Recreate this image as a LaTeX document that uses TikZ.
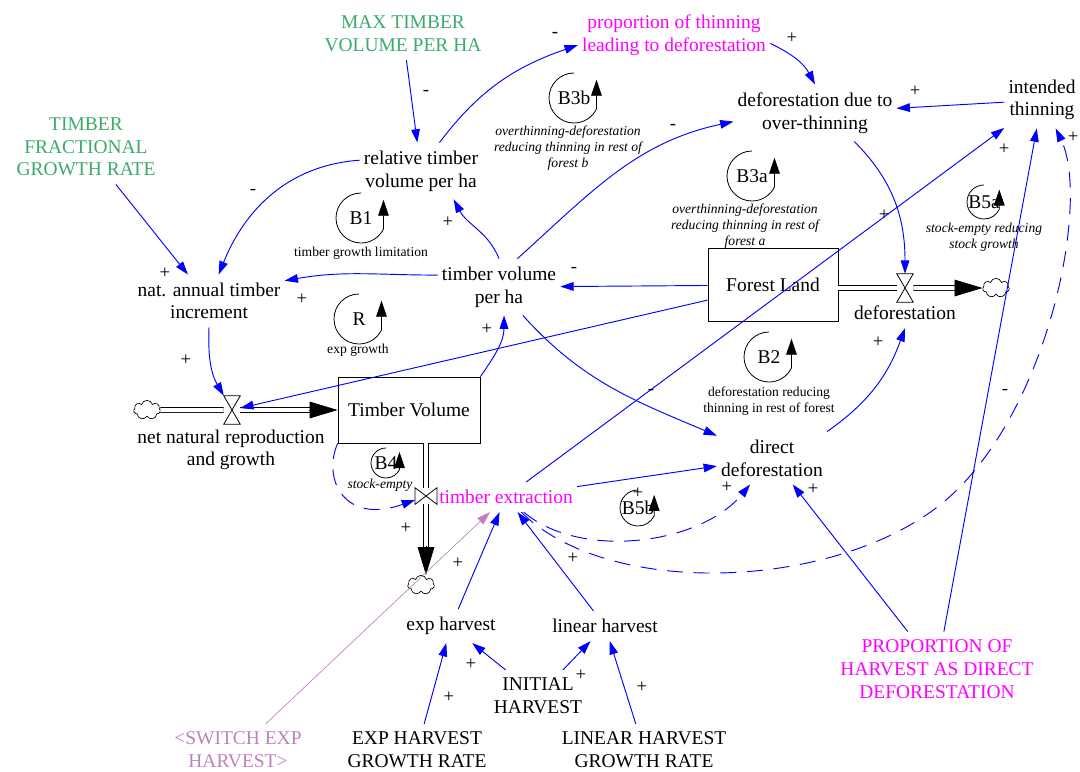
\documentclass[tikz,border=0pt]{standalone}
\usepackage{fontspec}
\setmainfont{Liberation Serif}
\usetikzlibrary{arrows.meta,shapes.symbols,calc}

\definecolor{cstgreen}{RGB}{60,170,105}
\definecolor{shdmag}{RGB}{255,0,255}
\definecolor{swlav}{RGB}{192,128,192}
\definecolor{lnkblue}{RGB}{0,0,255}

\newcommand{\varfont}{\fontsize{14.6}{17}\selectfont}
\newcommand{\loopfont}{\fontsize{10.2}{12}\selectfont}
\newcommand{\sgnfont}{\fontsize{14}{14}\selectfont}

\tikzset{
  var/.style={align=center, font=\varfont, inner xsep=3pt, inner ysep=6pt},
  cst/.style={var, text=cstgreen},
  shd/.style={var, text=shdmag},
  stockbox/.style={draw, line width=0.6pt, font=\varfont},
  link/.style={lnkblue, line width=0.7pt, -{Triangle[length=10pt,width=6.5pt]}},
  dlink/.style={link, dash pattern=on 12pt off 8pt},
  sgn/.style={font=\sgnfont, inner sep=0pt},
  pipe/.style={double, double distance=3pt, line width=0.6pt},
  pipetip/.style={line width=0.6pt, -{Triangle[length=21pt,width=12.5pt]}},
  hvalve/.style={inner sep=0pt, minimum width=12pt, minimum height=21pt},
  vvalve/.style={inner sep=0pt, minimum width=16pt, minimum height=12pt},
  bowtie/.style={line width=0.6pt, fill=white},
  cloudy/.style={cloud, cloud puffs=7, cloud ignores aspect, draw, fill=white, line width=0.5pt, inner sep=0pt, minimum width=20pt, minimum height=14.5pt},
  loopline/.style={line width=0.6pt, -{Triangle[length=12pt,width=8pt]}},
  loopname/.style={font=\varfont, inner sep=0pt},
  looptxt/.style={font=\loopfont, align=center, inner sep=0pt},
}

\begin{document}
\begin{tikzpicture}[x=0.75pt, y=0.75pt]
\useasboundingbox (0,0) rectangle (1080,-771);

% stocks, valves, clouds
\node[stockbox, minimum width=106.5pt, minimum height=49.5pt] (tv) at (409,-410) {Timber Volume};
\node[stockbox, minimum width=97.5pt, minimum height=54.75pt] (forest) at (773,-285) {Forest Land};
\node[hvalve] (vnat) at (232,-410) {};
\node[hvalve] (vdef) at (905,-288) {};
\node[vvalve] (vext) at (426,-496) {};
\node[cloudy] (cloudL) at (147,-410) {};
\node[cloudy] (cloudR) at (996,-288) {};
\node[cloudy] (cloudB) at (421,-585) {};

% flows
\draw[pipe] (cloudL) -- (vnat);
\draw[pipe, shorten >=21pt] (vnat) -- (tv);
\draw[pipetip] ($(tv.west)+(-29,0)$) -- (tv.west);
\draw[pipe] (vext |- tv.south) -- (vext);
\draw[pipe, shorten >=21pt] (vext) -- (vext |- cloudB.north);
\draw[pipetip] ($(vext |- cloudB.north)+(0,29)$) -- (vext |- cloudB.north);
\draw[pipe] (forest.east |- vdef) -- (vdef);
\draw[pipe, shorten >=19pt] (vdef) -- (cloudR);
\draw[pipetip] ($(cloudR.west)+(-27,0)$) -- (cloudR.west);
\foreach \v in {vnat, vdef}
  \draw[bowtie] (\v.center) -- (\v.north west) -- (\v.north east) -- cycle
                (\v.center) -- (\v.south west) -- (\v.south east) -- cycle;
\draw[bowtie] (vext.center) -- (vext.north west) -- (vext.south west) -- cycle
              (vext.center) -- (vext.north east) -- (vext.south east) -- cycle;

% variables
\node[cst] (maxv) at (403,-34) {MAX TIMBER\\VOLUME PER HA};
\node[cst] (tfgr) at (86,-147) {TIMBER\\FRACTIONAL\\GROWTH RATE};
\node[shd] (propthin) at (674,-35) {proportion of thinning\\leading to deforestation};
\node[var] (defover) at (815,-113) {deforestation due to\\over-thinning};
\node[var] (intended) at (1042,-100) {intended\\thinning};
\node[var] (reltv) at (421,-171) {relative timber\\volume per ha};
\node[var] (natinc) at (209,-301) {nat. annual timber\\increment};
\node[var] (tvph) at (499,-287) {timber volume\\per ha};
\node[var] (deflbl) at (905,-313) {deforestation};
\node[var] (nnrlbl) at (231,-450) {net natural reproduction\\and growth};
\node[shd] (textr) at (506,-497) {timber extraction};
\node[var] (direct) at (772,-458) {direct\\deforestation};
\node[var] (exph) at (451,-626) {exp harvest};
\node[var] (linh) at (605,-626) {linear harvest};
\node[var] (inith) at (538,-696) {INITIAL\\HARVEST};
\node[var] (ehgr) at (417,-750) {EXP HARVEST\\GROWTH RATE};
\node[var] (lhgr) at (644,-750) {LINEAR HARVEST\\GROWTH RATE};
\node[var, text=swlav] (swexp) at (238,-750) {<SWITCH EXP\\HARVEST>};
\node[shd] (prophd) at (937,-669) {PROPORTION OF\\HARVEST AS DIRECT\\DEFORESTATION};

% links
\draw[link] (maxv) -- (reltv);
\draw[link] (reltv.170) to[out=184,in=68] (natinc.70);
\draw[link] (tfgr) -- (natinc);
\draw[link] (tvph.169) to[out=180,in=10] (natinc.15);
\draw[link] (tvph.north) to[out=112,in=-62] (reltv.-41);
\draw[link] (reltv.57) to[out=53,in=199] (propthin.186);
\draw[link] (tvph.57) to[out=42,in=192] (defover.186);
\draw[link] (propthin.-5) to[out=-25,in=118] (defover.north);
\draw[link] (intended) -- (defover);
\draw[link] (defover.-36) to[out=-45,in=90] (vdef);
\draw[link] (forest) -- (tvph);
\draw[link] (forest) -- (vnat);
\draw[link] (natinc.south) to[out=-92,in=120] (vnat);
\draw[link] (tv.north east) to[out=55,in=-90] (tvph.-80);
\draw[link] (tvph.-50) to[out=-48,in=157] (direct.158);
\draw[link] (direct.north east) to[out=35,in=-110] (deflbl.south);
\draw[link] (textr) -- (direct);
\draw[link] (textr) -- (intended);
\draw[link] (prophd) -- (intended);
\draw[link] (prophd) -- (direct);
\draw[dlink] (textr) .. controls (580,-560) and (700,-545) .. (direct);
\draw[dlink] (textr) .. controls (610,-600) and (840,-590) .. (946,-500)
                     .. controls (1050,-410) and (1090,-200) .. (intended);
\draw[dlink] (tv.south west) .. controls (322,-480) and (345,-525) .. (vext);
\draw[link] (exph) -- (textr);
\draw[link] (linh) -- (textr);
\draw[link, swlav, line width=0.5pt] (swexp) -- (textr);
\draw[link] (ehgr) -- (exph);
\draw[link] (inith) -- (exph);
\draw[link] (inith) -- (linh);
\draw[link] (lhgr) -- (linh);

% polarities
\foreach \sx/\sy/\st [count=\i] in {426/93/-, 253/192/-, 165/273/+, 302/299/+, 448/222/+,
    555/35/-, 792/38/+, 915/91/+, 673/127/-, 574/270/-, 186/360/+, 487/329/+, 651/392/-,
    878/342/+, 884/215/+, 1004/149/+, 1073/137/+, 1005/392/-, 727/487/+, 813/489/+,
    638/493/+, 406/528/+, 458/563/+, 573/558/+, 471/664/+, 449/697/+, 581/675/+, 642/687/+}
  \node[sgn] (sgn\i) at (\sx,-\sy) {\st};

% loops
\foreach \lx/\ly/\lr/\ln [count=\i] in {574/98/25/B3b, 752/176/25/B3a, 984/202/17/B5a,
    361/218/25/B1, 359/319/25/R, 769/357/25/B2, 386/463/15/B4, 638/508/18/B5b} {
  \draw[loopline] (\lx,-\ly) ++(90:\lr) arc[start angle=90, end angle=334, radius=\lr] -- ++(0,1.17*\lr);
  \node[loopname] (loop\i) at (\lx,-\ly) {\ln};
}
\node[looptxt, font=\loopfont\itshape] (b3btxt) at (568,-148) {overthinning-deforestation\\reducing thinning in rest of\\forest b};
\node[looptxt, font=\loopfont\itshape] (b3atxt) at (745,-226) {overthinning-deforestation\\reducing thinning in rest of\\forest a};
\node[looptxt, font=\loopfont\itshape] (b5atxt) at (984,-237) {stock-empty reducing\\stock growth};
\node[looptxt] (b1txt) at (361,-253) {timber growth limitation};
\node[looptxt] (rtxt) at (358,-350) {exp growth};
\node[looptxt] (b2txt) at (769,-401) {deforestation reducing\\thinning in rest of forest};
\node[looptxt, font=\loopfont\itshape] (b4txt) at (380,-485) {stock-empty};
\end{tikzpicture}
\end{document}
